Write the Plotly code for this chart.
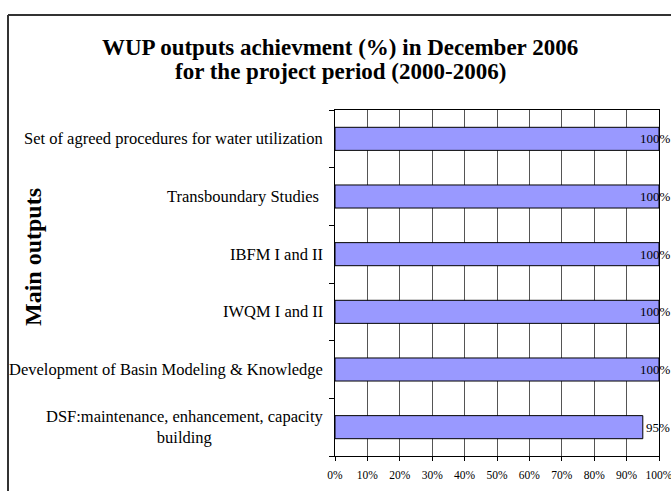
import plotly.graph_objects as go

categories = [
    "DSF:maintenance, enhancement, capacity<br>building",
    "Development of Basin Modeling &amp; Knowledge",
    "IWQM I and II",
    "IBFM I and II",
    "Transboundary Studies ",
    "Set of agreed procedures for water utilization",
]
values = [95, 100, 100, 100, 100, 100]
x_ticks = [0, 10, 20, 30, 40, 50, 60, 70, 80, 90, 100]
x_tick_labels = [f"{v}%" for v in x_ticks]
title_lines = ["WUP outputs achievment (%) in December 2006",
               "for the project period (2000-2006)"]
y_title = "Main outputs"

serif = "Liberation Serif"

L, R, T, B = 335, 12, 110, 35
W, H = 671, 491
PW, PH = W - L - R, H - T - B

fig = go.Figure()
fig.add_trace(go.Bar(
    x=values, y=categories, orientation="h",
    marker=dict(color="#9999FF", line=dict(color="#000000", width=1)),
    width=0.4,
))

# value labels
for c, v in zip(categories, values):
    fig.add_annotation(
        x=v, y=c, xref="x", yref="y", text=f"{v}%", showarrow=False,
        xanchor="left", xshift=(-21 if v >= 100 else 1),
        font=dict(family=serif, size=13, color="#000000"),
    )

# category labels (centre-aligned multi-line, right-anchored at the axis)
for c in categories:
    fig.add_annotation(
        x=0, y=c, xref="paper", yref="y", text=c, showarrow=False,
        xanchor="right", yanchor="middle", align="center", xshift=-10,
        font=dict(family=serif, size=16.5, color="#000000"),
    )

fig.update_layout(
    width=W, height=H,
    margin=dict(l=L, r=R, t=T, b=B, autoexpand=False),
    paper_bgcolor="white", plot_bgcolor="white",
    showlegend=False,
    xaxis=dict(
        range=[0, 100], tickvals=x_ticks, ticktext=x_tick_labels,
        showgrid=True, gridcolor="#555555", gridwidth=1,
        showline=True, linecolor="#000000", linewidth=1, mirror=True,
        ticks="outside", ticklen=4, tickcolor="#000000",
        tickfont=dict(family=serif, size=11.5, color="#000000"),
        ticklabelstandoff=4, ticklabeloverflow="allow",
        zeroline=False, fixedrange=True, automargin=False,
    ),
    yaxis=dict(
        type="category", categoryorder="array", categoryarray=categories,
        showline=True, linecolor="#000000", linewidth=1, mirror=True,
        ticks="outside", ticklen=5, tickcolor="#000000", tickson="boundaries",
        showticklabels=False,
        showgrid=False, fixedrange=True, automargin=False,
    ),
)

# title (two lines placed individually)
for i, line in enumerate(title_lines):
    fig.add_annotation(
        text=line, xref="paper", yref="paper",
        x=(340 - L) / PW, y=(H - B - (47 + 24 * i)) / PH,
        xanchor="center", yanchor="middle", showarrow=False,
        font=dict(family=serif, size=23, color="#000000", weight="bold"),
    )

fig.add_annotation(
    text=y_title, xref="paper", yref="paper",
    x=(33 - L) / PW, y=(H - B - 257) / PH, xanchor="center", yanchor="middle",
    textangle=-90, showarrow=False,
    font=dict(family=serif, size=24, color="#000000", weight="bold"),
)

# outer chart frame
fx = (8 - L) / PW
fy = (H - B - 15) / PH
fig.add_shape(type="line", xref="paper", yref="paper",
              x0=fx, x1=2, y0=fy, y1=fy,
              line=dict(color="#333333", width=2))
fig.add_shape(type="line", xref="paper", yref="paper",
              x0=fx, x1=fx, y0=-1, y1=fy,
              line=dict(color="#333333", width=2))

fig.write_html("out.html", config={"displayModeBar": False},
               post_script="document.body.style.margin='0';document.body.style.overflow='hidden';")
